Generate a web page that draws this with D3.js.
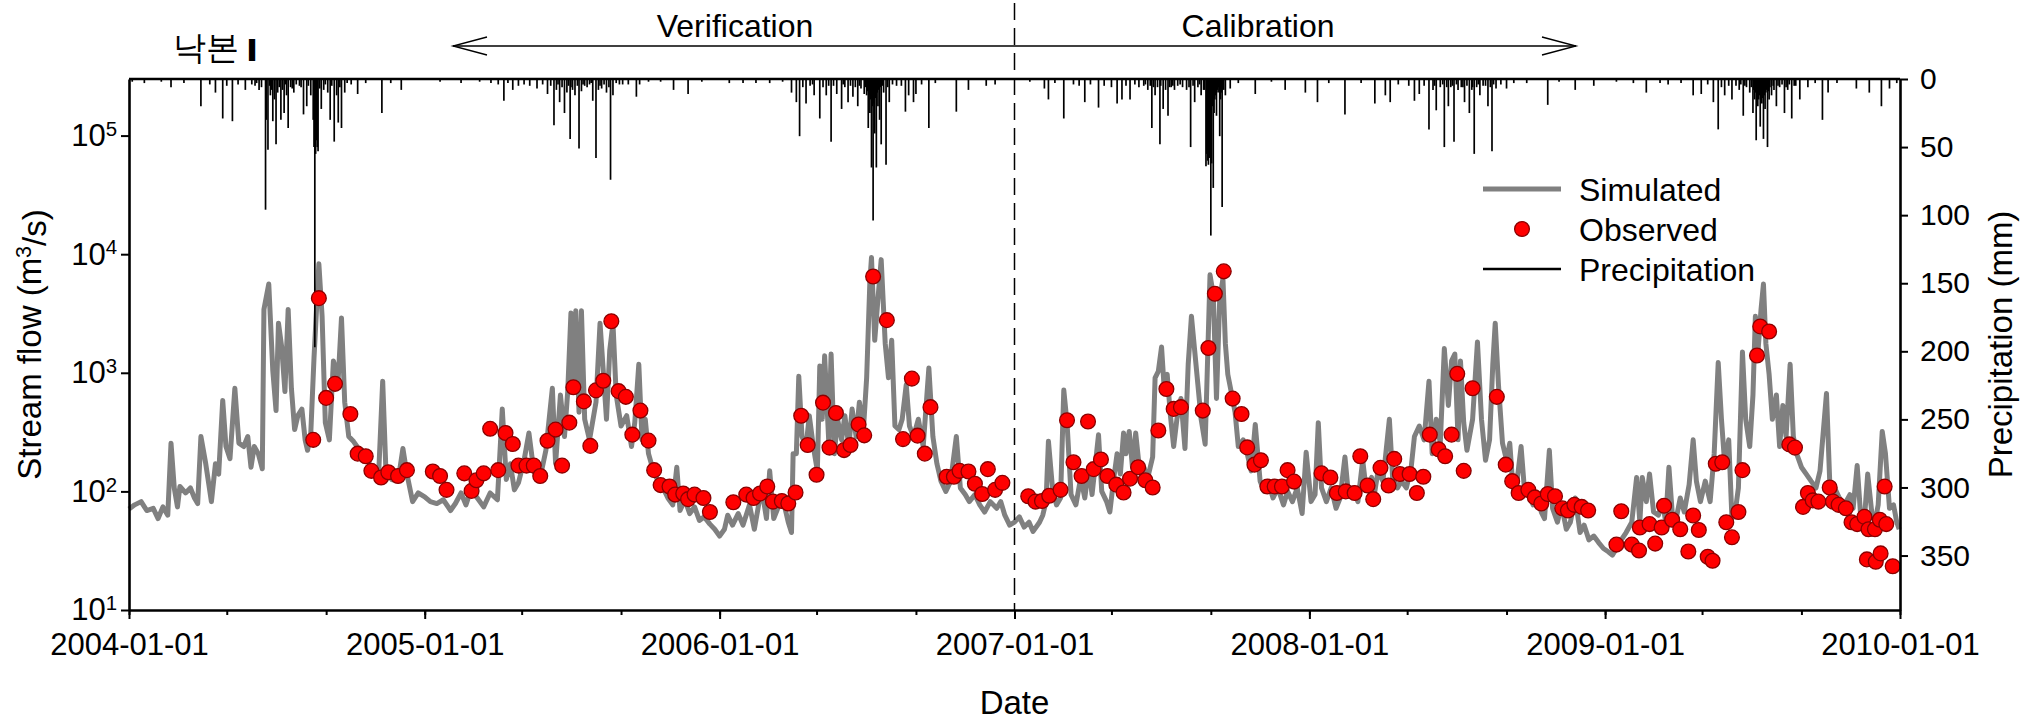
<!DOCTYPE html>
<html><head><meta charset="utf-8">
<script src="https://cdn.jsdelivr.net/npm/d3@7"></script>
<style>
html,body{margin:0;padding:0;background:#fff;}
svg{display:block;}
text{font-family:"Liberation Sans",Arial,sans-serif;fill:#000;}
</style></head><body>
<svg id="chart" width="2029" height="724"></svg>
<script>
// ---------------- DATA ----------------
const simDates = [
"2004-01-01","2004-01-08","2004-01-16","2004-01-23","2004-01-31","2004-02-06","2004-02-12","2004-02-18","2004-02-22","2004-02-26","2004-03-01","2004-03-04","2004-03-11","2004-03-17","2004-03-22","2004-03-26","2004-03-30","2004-04-05","2004-04-12","2004-04-17","2004-04-21","2004-04-26","2004-04-30","2004-05-05","2004-05-11","2004-05-16","2004-05-22","2004-05-27","2004-05-31","2004-06-04","2004-06-09","2004-06-14","2004-06-16","2004-06-22","2004-06-27","2004-07-01","2004-07-04","2004-07-08","2004-07-12","2004-07-16","2004-07-20","2004-07-24","2004-07-28","2004-08-02","2004-08-06","2004-08-09","2004-08-13","2004-08-17","2004-08-23","2004-08-27","2004-08-31","2004-09-05","2004-09-10","2004-09-16","2004-09-20","2004-09-24","2004-09-29","2004-10-05","2004-10-11","2004-10-19","2004-10-27","2004-11-05","2004-11-10","2004-11-14","2004-11-21","2004-11-29","2004-12-05","2004-12-10","2004-12-17","2004-12-24",
"2005-01-01","2005-01-08","2005-01-16","2005-01-24","2005-02-02","2005-02-08","2005-02-15","2005-02-21","2005-02-28","2005-03-06","2005-03-15","2005-03-23","2005-04-01","2005-04-07","2005-04-12","2005-04-17","2005-04-22","2005-04-27","2005-05-04","2005-05-10","2005-05-16","2005-05-23","2005-05-31","2005-06-08","2005-06-12","2005-06-18","2005-06-23","2005-06-27","2005-07-01","2005-07-04","2005-07-07","2005-07-11","2005-07-14","2005-07-18","2005-07-24","2005-08-01","2005-08-06","2005-08-10","2005-08-14","2005-08-18","2005-08-22","2005-08-26","2005-09-01","2005-09-08","2005-09-14","2005-09-18","2005-09-23","2005-09-27","2005-10-01","2005-10-05","2005-10-11","2005-10-17","2005-10-23","2005-10-29","2005-11-04","2005-11-09","2005-11-13","2005-11-19","2005-11-25","2005-12-01","2005-12-07","2005-12-13","2005-12-20","2005-12-26",
"2006-01-01","2006-01-07","2006-01-11","2006-01-17","2006-01-24","2006-01-30","2006-02-07","2006-02-13","2006-02-22","2006-02-28","2006-03-04","2006-03-09","2006-03-14","2006-03-20","2006-03-27","2006-03-31","2006-04-02","2006-04-06","2006-04-09","2006-04-13","2006-04-18","2006-04-22","2006-04-27","2006-05-02","2006-05-05","2006-05-08","2006-05-11","2006-05-16","2006-05-19","2006-05-23","2006-05-27","2006-06-01","2006-06-05","2006-06-10","2006-06-14","2006-06-19","2006-06-23","2006-06-28","2006-07-02","2006-07-06","2006-07-08","2006-07-12","2006-07-16","2006-07-20","2006-07-25","2006-07-29","2006-08-02","2006-08-06","2006-08-11","2006-08-15","2006-08-20","2006-08-24","2006-08-29","2006-09-04","2006-09-10","2006-09-17","2006-09-22","2006-09-27","2006-10-02","2006-10-08","2006-10-14","2006-10-21","2006-10-26","2006-11-01","2006-11-06","2006-11-13","2006-11-19","2006-11-25","2006-12-02","2006-12-10","2006-12-15","2006-12-20","2006-12-26",
"2007-01-01","2007-01-07","2007-01-13","2007-01-19","2007-01-24","2007-02-01","2007-02-05","2007-02-09","2007-02-12","2007-02-17","2007-02-22","2007-02-27","2007-03-03","2007-03-07","2007-03-12","2007-03-18","2007-03-24","2007-03-29","2007-04-03","2007-04-07","2007-04-15","2007-04-19","2007-04-25","2007-04-29","2007-05-04","2007-05-08","2007-05-12","2007-05-16","2007-05-19","2007-05-23","2007-05-27","2007-05-31","2007-06-04","2007-06-10","2007-06-15","2007-06-21","2007-06-24","2007-06-28","2007-07-02","2007-07-05","2007-07-09","2007-07-13","2007-07-17","2007-07-21","2007-07-26","2007-07-31","2007-08-04","2007-08-08","2007-08-12","2007-08-16","2007-08-20","2007-08-25","2007-08-31","2007-09-04","2007-09-08","2007-09-12","2007-09-16","2007-09-19","2007-09-22","2007-09-27","2007-10-01","2007-10-05","2007-10-11","2007-10-16","2007-10-21","2007-10-26","2007-11-01","2007-11-06","2007-11-12","2007-11-17","2007-11-23","2007-11-30","2007-12-05","2007-12-11","2007-12-17","2007-12-23","2007-12-28",
"2008-01-03","2008-01-08","2008-01-12","2008-01-16","2008-01-22","2008-01-28","2008-02-03","2008-02-08","2008-02-14","2008-02-18","2008-02-24","2008-03-01","2008-03-07","2008-03-11","2008-03-18","2008-03-22","2008-03-26","2008-04-01","2008-04-05","2008-04-09","2008-04-13","2008-04-19","2008-04-24","2008-04-30","2008-05-06","2008-05-10","2008-05-16","2008-05-22","2008-05-28","2008-06-01","2008-06-06","2008-06-11","2008-06-16","2008-06-21","2008-06-25","2008-06-29","2008-07-03","2008-07-06","2008-07-10","2008-07-14","2008-07-21","2008-07-27","2008-08-01","2008-08-06","2008-08-11","2008-08-15","2008-08-18","2008-08-22","2008-08-27","2008-09-01","2008-09-05","2008-09-09","2008-09-14","2008-09-19","2008-09-23","2008-09-30","2008-10-04","2008-10-09","2008-10-14","2008-10-18","2008-10-24","2008-10-28","2008-11-03","2008-11-08","2008-11-14","2008-11-19","2008-11-25","2008-12-01","2008-12-06","2008-12-12","2008-12-18","2008-12-24","2008-12-30",
"2009-01-05","2009-01-10","2009-01-15","2009-01-21","2009-01-27","2009-02-03","2009-02-09","2009-02-13","2009-02-16","2009-02-21","2009-02-25","2009-03-02","2009-03-08","2009-03-13","2009-03-17","2009-03-21","2009-03-25","2009-03-30","2009-04-04","2009-04-09","2009-04-15","2009-04-20","2009-04-24","2009-04-29","2009-05-05","2009-05-11","2009-05-16","2009-05-21","2009-05-25","2009-05-29","2009-06-03","2009-06-07","2009-06-11","2009-06-15","2009-06-20","2009-06-24","2009-06-29","2009-07-03","2009-07-06","2009-07-09","2009-07-13","2009-07-16","2009-07-19","2009-07-23","2009-07-27","2009-08-01","2009-08-05","2009-08-09","2009-08-13","2009-08-18","2009-08-22","2009-08-26","2009-09-01","2009-09-07","2009-09-13","2009-09-19","2009-09-24","2009-10-02","2009-10-06","2009-10-12","2009-10-18","2009-10-24","2009-10-31","2009-11-04","2009-11-09","2009-11-13","2009-11-18","2009-11-22","2009-11-27","2009-12-01","2009-12-05","2009-12-10","2009-12-14","2009-12-19","2009-12-24","2009-12-28","2009-12-31"
];
const simValues = [
71,77,82,69,72,59,74,63,255,107,74,110,97,107,88,79,290,171,82,171,140,585,239,189,740,255,239,290,160,239,208,155,3420,5600,1040,480,2620,1650,694,3420,740,332,435,495,272,222,311,1340,8300,3000,380,272,1260,907,2900,565,290,263,230,195,160,140,850,149,126,122,230,140,82,97,
90,82,79,85,69,79,97,77,107,90,74,97,85,495,126,171,103,118,183,311,149,122,222,740,171,650,290,694,3200,793,3330,465,3330,406,272,565,2620,1040,406,1540,2620,650,356,435,239,380,1180,272,406,208,149,122,107,88,77,160,69,85,65,74,57,61,53,48,
42,48,63,52,65,52,77,48,107,59,149,59,72,88,55,45,208,208,935,290,239,435,239,149,1140,406,1390,272,1440,208,406,272,435,239,495,290,565,332,907,5900,9370,1880,4200,9000,1760,907,1880,356,332,406,793,356,290,406,239,1100,290,171,122,100,122,290,107,94,82,94,77,67,82,72,82,63,52,
55,61,50,55,46,55,63,82,265,107,77,88,715,380,94,77,131,88,160,94,300,100,82,67,131,208,140,311,208,320,160,311,171,160,131,195,907,1030,1650,793,970,435,239,406,607,230,1180,3000,1540,793,406,250,6700,4560,607,4200,6200,1760,970,650,465,239,272,208,149,367,122,100,114,88,107,77,100,82,107,65,214,
82,94,380,107,82,107,72,88,195,100,107,82,183,107,131,100,149,122,222,406,131,107,122,107,160,290,356,272,850,208,406,255,1600,531,1260,1440,272,1260,380,222,406,1820,406,183,272,1180,2620,793,255,183,255,107,122,239,107,88,77,94,67,59,222,72,55,77,48,55,88,45,52,39,42,37,33,
31,29,33,39,45,55,131,55,131,82,140,67,63,82,55,160,67,59,88,67,114,272,122,82,122,82,208,1220,406,171,272,59,67,107,1500,406,239,650,3000,1440,3420,5600,1760,970,406,650,239,531,290,1180,290,208,160,140,122,107,149,670,122,107,88,77,94,72,165,67,59,140,67,55,77,320,208,72,77,55,48
];

const obsDates = [
"2004-08-16","2004-08-23","2004-09-01","2004-09-12","2004-10-01","2004-10-10","2004-10-20","2004-10-27","2004-11-08","2004-11-17","2004-11-29","2004-12-10",
"2005-01-11","2005-01-20","2005-01-28","2005-02-19","2005-02-28","2005-03-06","2005-03-15","2005-03-23","2005-04-02","2005-04-11","2005-04-20","2005-04-27","2005-05-07","2005-05-16","2005-05-24","2005-06-02","2005-06-12","2005-06-20","2005-06-29","2005-07-04","2005-07-17","2005-07-25","2005-08-01","2005-08-10","2005-08-20","2005-08-29","2005-09-07","2005-09-15","2005-09-25","2005-10-05","2005-10-12","2005-10-20","2005-10-31","2005-11-07","2005-11-17","2005-11-23","2005-12-01","2005-12-12","2005-12-20",
"2006-01-18","2006-02-03","2006-02-12","2006-02-20","2006-03-01","2006-03-08","2006-03-19","2006-03-27","2006-04-05","2006-04-12","2006-04-20","2006-05-01","2006-05-09","2006-05-17","2006-05-25","2006-06-04","2006-06-12","2006-06-22","2006-06-29","2006-07-10","2006-07-27","2006-08-16","2006-08-27","2006-09-03","2006-09-12","2006-09-19","2006-10-09","2006-10-18","2006-10-25","2006-11-05","2006-11-13","2006-11-22","2006-11-29","2006-12-08","2006-12-17",
"2007-01-18","2007-01-27","2007-02-04","2007-02-13","2007-02-27","2007-03-07","2007-03-15","2007-03-25","2007-04-02","2007-04-09","2007-04-18","2007-04-26","2007-05-07","2007-05-16","2007-05-24","2007-06-03","2007-06-12","2007-06-21","2007-06-28","2007-07-08","2007-07-17","2007-07-26","2007-08-22","2007-08-29","2007-09-06","2007-09-17","2007-09-28","2007-10-09","2007-10-16","2007-10-25","2007-11-02","2007-11-10","2007-11-19","2007-11-28","2007-12-05","2007-12-13",
"2008-01-16","2008-01-27","2008-02-04","2008-02-15","2008-02-26","2008-03-04","2008-03-13","2008-03-20","2008-03-29","2008-04-08","2008-04-15","2008-04-22","2008-05-04","2008-05-13","2008-05-21","2008-05-29","2008-06-09","2008-06-17","2008-06-25","2008-07-02","2008-07-10","2008-07-21","2008-08-20","2008-08-31","2008-09-08","2008-09-16","2008-09-28","2008-10-06","2008-10-14","2008-10-22","2008-10-31","2008-11-09","2008-11-16","2008-11-24","2008-12-03","2008-12-11",
"2009-01-15","2009-01-21","2009-02-03","2009-02-12","2009-02-13","2009-02-25","2009-03-04","2009-03-12","2009-03-15","2009-03-25","2009-04-04","2009-04-14","2009-04-20","2009-04-27","2009-05-08","2009-05-14","2009-05-18","2009-05-26","2009-05-31","2009-06-07","2009-06-15","2009-06-20","2009-07-08","2009-07-12","2009-07-23","2009-08-17","2009-08-24","2009-09-03","2009-09-09","2009-09-15","2009-09-22","2009-10-06","2009-10-10","2009-10-17","2009-10-26","2009-11-02","2009-11-09","2009-11-18","2009-11-21","2009-11-23","2009-12-01","2009-12-02","2009-12-07","2009-12-08","2009-12-13","2009-12-15","2009-12-23"
];
const obsValues = [
272,4260,614,807,449,208,198,149,131,145,135,151,
147,135,103,142,101,124,142,337,151,311,251,165,165,165,135,267,332,165,380,755,574,242,711,857,2720,700,627,301,480,268,151,113,110,94,96,86,94,88,67,
81,94,88,96,110,82,83,79,98,434,246,138,560,234,458,223,246,367,297,6480,2780,276,893,295,208,513,133,133,149,147,116,95,154,103,118,
91,82,83,92,103,398,176,135,388,154,186,135,114,98,128,160,124,108,326,731,496,513,480,1620,4640,7170,606,449,235,168,183,110,110,110,151,121,
142,131,97,100,97,198,112,86,158,112,188,140,140,97,133,301,226,198,301,980,149,741,627,168,122,97,103,89,79,95,91,72,69,77,74,69,
35.6,68,35.6,31.7,49.6,53,36.3,49.6,75.7,57.6,48,31.1,62.7,47.3,28.1,26,171,176,55,41,67,151,1400,2460,2230,249,234,74,97,84,82,108,82,77,72,55,53,61,26.7,48,48,25.5,57.6,30,110,53,23.4
];

const precipDates = [
"2004-01-05","2004-01-20","2004-02-10","2004-02-22","2004-03-09","2004-03-30","2004-04-10","2004-04-17","2004-04-26","2004-05-01","2004-05-08","2004-05-15","2004-05-24","2004-06-05","2004-06-10","2004-06-18","2004-06-19","2004-06-21","2004-06-24","2004-06-27","2004-06-29","2004-07-01","2004-07-03","2004-07-07","2004-07-09","2004-07-11","2004-07-14","2004-07-16","2004-07-19","2004-07-23","2004-07-30","2004-08-04","2004-08-08","2004-08-13","2004-08-16","2004-08-17","2004-08-18","2004-08-19","2004-08-20","2004-08-21","2004-08-22","2004-08-26","2004-08-29","2004-09-03","2004-09-06","2004-09-11","2004-09-14","2004-09-16","2004-09-20","2004-09-24","2004-10-02","2004-10-10","2004-10-20","2004-11-09","2004-11-20","2004-12-03",
"2004-06-01","2004-06-07","2004-06-13","2004-06-23","2004-06-25","2004-07-05","2004-07-13","2004-07-21","2004-07-26","2004-08-01","2004-08-10","2004-08-24","2004-08-31","2004-09-08","2004-09-18","2004-09-27",
"2005-01-20","2005-02-15","2005-03-10","2005-03-24","2005-04-02","2005-04-09","2005-04-14","2005-04-20","2005-04-27","2005-05-04","2005-05-11","2005-05-20","2005-05-27","2005-06-02","2005-06-06","2005-06-10","2005-06-13","2005-06-17","2005-06-20","2005-06-23","2005-06-26","2005-06-30","2005-07-03","2005-07-06","2005-07-11","2005-07-14","2005-07-18","2005-07-24","2005-07-28","2005-08-01","2005-08-04","2005-08-08","2005-08-14","2005-08-19","2005-08-22","2005-08-30","2005-09-10","2005-09-20","2005-09-24","2005-10-05","2005-10-20","2005-11-05","2005-11-23","2005-12-10",
"2005-06-15","2005-06-28","2005-07-01","2005-07-09","2005-07-16","2005-07-21","2005-07-26","2005-08-06","2005-08-11","2005-08-17","2005-08-26","2005-09-03",
"2006-01-13","2006-01-30","2006-02-15","2006-03-04","2006-03-20","2006-03-31","2006-04-06","2006-04-10","2006-04-14","2006-04-18","2006-04-23","2006-04-28","2006-05-05","2006-05-09","2006-05-13","2006-05-19","2006-05-22","2006-05-26","2006-06-01","2006-06-05","2006-06-09","2006-06-12","2006-06-15","2006-06-21","2006-06-25","2006-06-29","2006-07-02","2006-07-04","2006-07-06","2006-07-08","2006-07-10","2006-07-12","2006-07-14","2006-07-16","2006-07-18","2006-07-20","2006-07-23","2006-07-26","2006-07-30","2006-08-08","2006-08-19","2006-08-23","2006-08-29","2006-09-01","2006-09-08","2006-09-17","2006-09-25","2006-10-21","2006-11-05","2006-11-27","2006-12-08",
"2006-04-26","2006-05-16","2006-06-03","2006-06-18","2006-06-23","2006-07-01","2006-07-03","2006-07-05","2006-07-07","2006-07-09","2006-07-11","2006-07-13","2006-07-15","2006-07-17","2006-07-19","2006-07-22","2006-07-28","2006-08-03","2006-08-14",
"2007-01-20","2007-02-07","2007-02-12","2007-02-20","2007-03-03","2007-03-15","2007-03-22","2007-03-29","2007-04-05","2007-04-15","2007-04-22","2007-05-01","2007-05-08","2007-05-14","2007-05-19","2007-05-24","2007-05-30","2007-06-04","2007-06-10","2007-06-15","2007-06-20","2007-06-24","2007-06-27","2007-06-30","2007-07-04","2007-07-07","2007-07-10","2007-07-14","2007-07-18","2007-07-22","2007-07-28","2007-08-02","2007-08-07","2007-08-12","2007-08-16","2007-08-20","2007-08-23","2007-08-26","2007-08-27","2007-08-28","2007-08-29","2007-08-30","2007-09-01","2007-09-02","2007-09-04","2007-09-06","2007-09-08","2007-09-10","2007-09-12","2007-09-15","2007-09-19","2007-09-25","2007-10-05","2007-10-26","2007-11-15","2007-12-02","2007-12-27",
"2007-06-12","2007-06-18","2007-06-22","2007-07-01","2007-07-12","2007-07-16","2007-07-25","2007-08-05","2007-08-10","2007-08-18","2007-08-24","2007-09-03","2007-09-05","2007-09-07","2007-09-09","2007-09-11","2007-09-13","2007-09-14","2007-09-17",
"2008-01-11","2008-01-25","2008-02-14","2008-03-05","2008-03-22","2008-04-04","2008-04-10","2008-04-20","2008-05-03","2008-05-10","2008-05-16","2008-05-22","2008-05-28","2008-06-02","2008-06-06","2008-06-11","2008-06-16","2008-06-21","2008-06-24","2008-06-28","2008-07-03","2008-07-07","2008-07-11","2008-07-17","2008-07-20","2008-07-23","2008-07-26","2008-07-30","2008-08-03","2008-08-09","2008-08-14","2008-08-19","2008-08-25","2008-09-01","2008-09-10","2008-09-26","2008-10-22","2008-11-05","2008-11-25","2008-12-18",
"2008-06-04","2008-06-14","2008-06-19","2008-06-26","2008-07-01","2008-07-09","2008-07-14","2008-07-21","2008-07-28","2008-08-06","2008-08-12","2008-08-16",
"2009-01-15","2009-02-05","2009-02-21","2009-03-10","2009-03-20","2009-04-05","2009-04-20","2009-04-30","2009-05-08","2009-05-15","2009-05-21","2009-05-25","2009-05-29","2009-06-03","2009-06-07","2009-06-12","2009-06-16","2009-06-21","2009-06-25","2009-06-29","2009-07-03","2009-07-05","2009-07-07","2009-07-09","2009-07-12","2009-07-14","2009-07-16","2009-07-18","2009-07-21","2009-07-23","2009-07-26","2009-07-29","2009-08-01","2009-08-05","2009-08-11","2009-08-15","2009-08-20","2009-08-25","2009-08-30","2009-09-09","2009-09-18","2009-09-27","2009-10-04","2009-10-15","2009-11-08","2009-11-24","2009-12-09","2009-12-19","2009-12-28",
"2009-06-18","2009-06-23","2009-07-01","2009-07-04","2009-07-06","2009-07-08","2009-07-10","2009-07-11","2009-07-13","2009-07-15","2009-07-17","2009-07-19","2009-07-20","2009-07-22","2009-07-24","2009-07-28","2009-08-03","2009-08-08","2009-08-13","2009-08-17","2009-08-23"
];
const precipValues = [
2,3,2,6,3,20,4,10,29,5,31,4,8,5,8,96,30,52,12,31,15,48,10,30,8,25,12,36,6,10,5,26,20,12,30,50,197,55,45,50,53,22,8,10,30,46,12,32,36,10,4,11,3,25,3,8,
4,3,6,5,8,6,4,7,4,6,5,7,4,5,6,3,
2,3,2,3,4,16,3,8,5,4,5,7,4,11,5,34,8,17,6,25,10,44,8,12,51,9,5,4,16,58,8,7,10,74,12,4,4,13,4,2,2,8,11,2,
4,5,6,5,4,6,3,5,4,6,3,4,
3,3,3,3,2,10,17,42,6,18,5,12,29,6,12,46,5,11,22,6,17,5,13,20,7,11,12,36,25,65,104,40,65,20,30,48,10,63,17,5,24,12,17,11,4,36,3,24,8,5,4,
4,5,4,6,5,6,9,12,15,20,18,14,10,8,6,5,6,4,5,
2,7,15,3,29,4,5,17,4,21,5,6,18,15,5,15,4,6,5,8,36,12,6,48,22,8,27,6,8,5,6,8,50,17,6,12,8,64,55,60,63,58,115,62,80,15,27,10,42,94,12,7,3,11,2,8,10,
4,5,6,5,6,5,4,6,5,4,8,20,25,12,8,6,15,10,8,
17,3,26,3,18,12,17,4,5,16,11,5,37,8,23,6,50,20,6,46,8,6,17,25,8,55,6,12,5,20,53,7,4,7,3,3,19,2,8,5,
5,4,6,5,4,6,5,6,4,5,6,4,
2,3,10,3,4,3,12,11,4,17,37,6,12,5,15,5,8,27,6,10,25,15,45,20,35,18,44,22,50,15,12,8,20,6,25,8,29,5,15,6,3,30,10,3,7,10,20,7,3,
4,5,6,8,10,12,15,12,10,14,12,10,8,9,6,5,5,4,6,4,5
];

const flowTicks = [10, 100, 1000, 10000, 100000];
const precipTicks = [0, 50, 100, 150, 200, 250, 300, 350];
const yearTicks = ["2004-01-01","2005-01-01","2006-01-01","2007-01-01","2008-01-01","2009-01-01","2010-01-01"];
const periodSplit = "2007-01-01";
const legendLabels = ["Simulated", "Observed", "Precipitation"];

// ---------------- CHART ----------------
const parse = d3.utcParse("%Y-%m-%d");
const svg = d3.select("#chart");
const X0 = 129, X1 = 1900, Y0 = 79, Y1 = 610;
const FONT = '"Liberation Sans", Arial, sans-serif';

const x = d3.scaleUtc().domain([parse(yearTicks[0]), parse(yearTicks[yearTicks.length-1])]).range([X0, X1]);
const y = d3.scaleLog().domain([10, 3e5]).range([Y1, Y0]);
const yP = d3.scaleLinear().domain([0, 390]).range([Y0, Y1]);

if (simDates.length !== simValues.length || obsDates.length !== obsValues.length || precipDates.length !== precipValues.length) {
  console.error("length mismatch", simDates.length, simValues.length, obsDates.length, obsValues.length, precipDates.length, precipValues.length);
}

const sim = simDates.map((d, i) => ({date: parse(d), v: simValues[i]}));
const obs = obsDates.map((d, i) => ({date: parse(d), v: obsValues[i]}));
const prc = precipDates.map((d, i) => ({date: parse(d), v: precipValues[i]}));

// simulated line
svg.append("path").datum(sim)
  .attr("d", d3.line().x(d => x(d.date)).y(d => y(d.v)))
  .attr("fill", "none").attr("stroke", "#808080").attr("stroke-width", 5)
  .attr("stroke-linejoin", "round");

// precipitation bars (hanging from top)
svg.append("g").selectAll("line").data(prc).join("line")
  .attr("x1", d => x(d.date)).attr("x2", d => x(d.date))
  .attr("y1", yP(0)).attr("y2", d => yP(d.v))
  .attr("stroke", "#000").attr("stroke-width", 1.7);

// observed points
svg.append("g").selectAll("circle").data(obs).join("circle")
  .attr("cx", d => x(d.date)).attr("cy", d => y(d.v)).attr("r", 7.4)
  .attr("fill", "#ff0000").attr("stroke", "#8b0000").attr("stroke-width", 1.3);

// dashed period separator
const xs = x(parse(periodSplit));
svg.append("line").attr("x1", xs).attr("x2", xs).attr("y1", 3).attr("y2", Y1)
  .attr("stroke", "#000").attr("stroke-width", 1.5).attr("stroke-dasharray", "17,8");

// axes
function styleAxis(g, fs) {
  g.attr("font-family", FONT).attr("font-size", fs);
  g.selectAll("path.domain").attr("stroke", "#000").attr("stroke-width", 2.6);
  g.selectAll(".tick line").attr("stroke", "#000").attr("stroke-width", 2);
  g.selectAll(".tick text").attr("fill", "#000");
}

const gL = svg.append("g").attr("transform", `translate(${X0},0)`)
  .call(d3.axisLeft(y).tickValues(flowTicks).tickSize(8).tickSizeOuter(0).tickPadding(4).tickFormat(() => ""));
styleAxis(gL, 31);
gL.selectAll(".tick").each(function(d) {
  const t = d3.select(this).select("text");
  t.text(null);
  t.append("tspan").text("10");
  t.append("tspan").attr("dy", "-0.5em").attr("font-size", "0.66em").text(Math.round(Math.log10(d)));
});

const gB = svg.append("g").attr("transform", `translate(0,${Y1})`)
  .call(d3.axisBottom(x).tickValues(yearTicks.map(parse)).tickSize(9).tickSizeOuter(0).tickPadding(14).tickFormat(d3.utcFormat("%Y-%m-%d")));
styleAxis(gB, 31);
const gBm = svg.append("g").attr("transform", `translate(0,${Y1})`)
  .call(d3.axisBottom(x).ticks(d3.utcMonth.every(4)).tickSize(5).tickSizeOuter(0).tickFormat(""));
styleAxis(gBm, 31);
gBm.select("path.domain").remove();

const gR = svg.append("g").attr("transform", `translate(${X1},0)`)
  .call(d3.axisRight(yP).tickValues(precipTicks).tickSize(8).tickSizeOuter(0).tickPadding(12));
styleAxis(gR, 30);

// top frame line
svg.append("line").attr("x1", X0).attr("x2", X1).attr("y1", Y0).attr("y2", Y0)
  .attr("stroke", "#000").attr("stroke-width", 2.6);

// axis titles
const tL = svg.append("text").attr("transform", `translate(41,${(Y0+Y1)/2}) rotate(-90)`)
  .attr("text-anchor", "middle").attr("font-size", 33).attr("font-family", FONT);
tL.append("tspan").text("Stream flow (m");
tL.append("tspan").attr("dy", "-0.45em").attr("font-size", "0.65em").text("3");
tL.append("tspan").attr("dy", "0.45em").text("/s)");

svg.append("text").attr("transform", `translate(2012,${(Y0+Y1)/2}) rotate(-90)`)
  .attr("text-anchor", "middle").attr("font-size", 33).attr("font-family", FONT)
  .text("Precipitation (mm)");

svg.append("text").attr("x", (X0+X1)/2).attr("y", 714).attr("text-anchor", "middle")
  .attr("font-size", 33).attr("font-family", FONT).text("Date");

// top annotations
svg.append("text").attr("x", 735).attr("y", 37).attr("text-anchor", "middle")
  .attr("font-size", 32).attr("font-family", FONT).text("Verification");
svg.append("text").attr("x", 1258).attr("y", 37).attr("text-anchor", "middle")
  .attr("font-size", 32).attr("font-family", FONT).text("Calibration");

const ay = 46, axL = 453, axR = 1576;
svg.append("line").attr("x1", axL).attr("x2", axR).attr("y1", ay).attr("y2", ay)
  .attr("stroke", "#000").attr("stroke-width", 1.3);
svg.append("path").attr("d", `M${axL+34},${ay-9}L${axL},${ay}L${axL+34},${ay+9}`)
  .attr("fill", "none").attr("stroke", "#000").attr("stroke-width", 1.3);
svg.append("path").attr("d", `M${axR-34},${ay-9}L${axR},${ay}L${axR-34},${ay+9}`)
  .attr("fill", "none").attr("stroke", "#000").attr("stroke-width", 1.3);

svg.append("text").attr("x", 173).attr("y", 59).attr("font-size", 33)
  .attr("font-family", '"Noto Sans CJK KR", sans-serif').text("낙본");
svg.append("text").attr("x", 248).attr("y", 60).attr("font-size", 29)
  .attr("font-family", FONT).attr("font-weight", "bold")
  .attr("stroke", "#000").attr("stroke-width", 2).text("I");

// legend
const lgX = 1483, lgW = 78, lgTx = 1579, lgY = [189, 229, 269];
svg.append("line").attr("x1", lgX).attr("x2", lgX+lgW).attr("y1", lgY[0]).attr("y2", lgY[0])
  .attr("stroke", "#808080").attr("stroke-width", 5);
svg.append("circle").attr("cx", lgX+lgW/2).attr("cy", lgY[1]).attr("r", 7.4)
  .attr("fill", "#ff0000").attr("stroke", "#8b0000").attr("stroke-width", 1.3);
svg.append("line").attr("x1", lgX).attr("x2", lgX+lgW).attr("y1", lgY[2]).attr("y2", lgY[2])
  .attr("stroke", "#000").attr("stroke-width", 2.5);
legendLabels.forEach((lab, i) => {
  svg.append("text").attr("x", lgTx).attr("y", lgY[i]).attr("dy", "0.36em")
    .attr("font-size", 32).attr("font-family", FONT).text(lab);
});
</script>
</body></html>
